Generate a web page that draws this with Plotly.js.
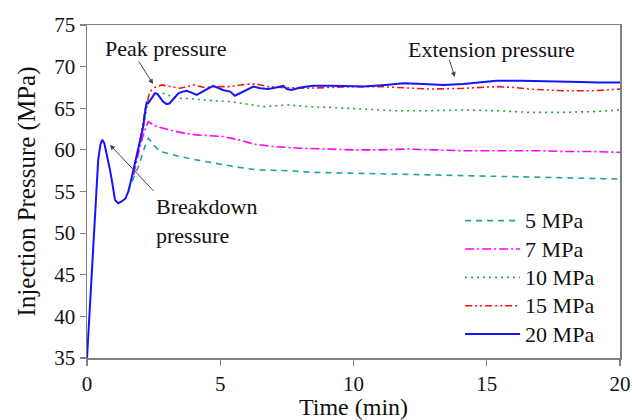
<!DOCTYPE html>
<html>
<head>
<meta charset="utf-8">
<script src="https://cdn.plot.ly/plotly-3.0.1.min.js"></script>
<style>
  html, body { margin: 0; padding: 0; background: #fff; }
  #chart { width: 632px; height: 420px; }
</style>
</head>
<body>
<div id="chart"></div>
<script>
// Injection pressure versus time for five confining-pressure cases
const seriesNames = ['5 MPa', '7 MPa', '10 MPa', '15 MPa', '20 MPa'];

const t5 = [1.55, 1.61, 1.93, 2.15, 2.3, 2.5, 2.74, 3.1, 3.49, 4.1, 4.74, 5.5, 6.37, 7.5, 8.5, 10.0, 11.0, 12.0, 13.5, 15.0, 16.5, 18.0, 19.0, 20];
const p5 = [55.0, 55.6, 58.0, 60.2, 61.4, 60.6, 59.8, 59.5, 59.2, 58.8, 58.4, 58.0, 57.6, 57.5, 57.3, 57.2, 57.1, 57.0, 56.9, 56.8, 56.7, 56.6, 56.6, 56.5];

const t7 = [1.75, 1.99, 2.15, 2.3, 2.45, 2.61, 2.86, 3.2, 3.49, 4.12, 4.6, 5.11, 5.7, 6.24, 7.0, 8.0, 9.0, 10.0, 11.0, 12.0, 13.0, 14.0, 15.0, 16.0, 17.0, 18.0, 19.0, 20];
const p7 = [57.0, 60.4, 62.2, 63.4, 63.1, 62.8, 62.6, 62.3, 62.1, 61.8, 61.7, 61.6, 61.2, 60.7, 60.4, 60.2, 60.1, 60.0, 60.0, 60.1, 60.0, 59.9, 59.9, 59.9, 59.9, 59.8, 59.8, 59.7];

const t10 = [2.0, 2.15, 2.3, 2.6, 2.86, 3.2, 3.49, 4.1, 4.74, 5.37, 6.0, 6.62, 7.5, 8.3, 9.12, 10.4, 11.62, 12.8, 14.12, 15.4, 16.62, 17.8, 19.0, 20];
const p10 = [60.8, 63.5, 66.0, 66.6, 66.8, 66.4, 66.2, 66.1, 65.9, 65.8, 65.5, 65.2, 65.4, 65.2, 65.1, 64.9, 64.7, 64.7, 64.8, 64.7, 64.5, 64.5, 64.6, 64.8];

const t15 = [2.0, 2.18, 2.36, 2.55, 2.8, 3.1, 3.49, 3.75, 3.99, 4.4, 4.74, 5.37, 6.0, 6.37, 6.8, 7.25, 8.2, 9.12, 10.0, 10.99, 12.0, 12.87, 14.12, 15.37, 16.0, 16.62, 17.87, 19.0, 20];
const p15 = [61.2, 64.8, 67.0, 67.5, 67.8, 67.6, 67.4, 67.6, 67.8, 67.5, 67.6, 67.6, 67.9, 67.9, 67.6, 67.5, 67.4, 67.5, 67.6, 67.6, 67.4, 67.3, 67.4, 67.6, 67.5, 67.3, 67.1, 67.1, 67.3];

const t20 = [0, 0.42, 0.5, 0.57, 0.65, 0.74, 0.85, 0.93, 1.05, 1.17, 1.3, 1.45, 1.55, 1.65, 1.74, 1.93, 2.11, 2.2, 2.24, 2.3, 2.36, 2.45, 2.55, 2.65, 2.74, 2.85, 2.99, 3.1, 3.18, 3.43, 3.6, 3.74, 3.9, 4.12, 4.45, 4.74, 5.1, 5.37, 5.55, 5.8, 6.24, 6.5, 6.8, 7.1, 7.37, 7.5, 7.68, 8.0, 8.49, 9.2, 10.37, 11.2, 11.87, 12.6, 13.37, 14.12, 14.8, 15.37, 16.3, 17.25, 18.5, 19.2, 20];
const p20 = [35, 58.8, 60.6, 61.2, 60.8, 59.6, 57.8, 56.4, 54.0, 53.6, 53.8, 54.2, 55.0, 56.3, 57.6, 60.4, 62.8, 65.0, 65.7, 65.6, 65.9, 66.4, 66.8, 66.7, 66.3, 65.8, 65.5, 65.6, 65.9, 66.8, 67.0, 67.1, 66.9, 66.6, 67.2, 67.7, 67.2, 67.0, 66.5, 66.9, 67.6, 67.4, 67.3, 67.5, 67.7, 67.3, 67.2, 67.5, 67.7, 67.7, 67.6, 67.8, 68.0, 67.9, 67.8, 67.9, 68.1, 68.3, 68.3, 68.2, 68.15, 68.1, 68.1];

const xs = [t5, t7, t10, t15, t20];
const ys = [p5, p7, p10, p15, p20];
const colors = ['#1fa39c', '#ff00ff', '#2ca02c', '#ff1010', '#1414ff'];
const dashes = ['6px,5px', '9px,3px,2px,3px', '2px,4px', '7px,3px,2px,3px,2px,3px', 'solid'];

const serif = '"Times New Roman", "Liberation Serif", serif';

// legend rows are spaced by the legend font size; names are drawn a little larger
const traces = seriesNames.map((name, i) => ({
  x: xs[i],
  y: ys[i],
  name: '<span style="font-size:22px">' + name + '</span>',
  type: 'scatter',
  mode: 'lines',
  line: { color: colors[i], width: i === 4 ? 2 : 1.6, dash: dashes[i] }
}));

const arrowStyle = { showarrow: true, arrowhead: 2, arrowsize: 1, arrowwidth: 1, arrowcolor: '#444', axref: 'x', ayref: 'y', text: '' };
const noteFont = { family: serif, size: 22, color: '#111' };

const layout = {
  width: 632,
  height: 420,
  margin: { l: 87, r: 12, t: 25, b: 62 },
  paper_bgcolor: '#ffffff',
  plot_bgcolor: '#ffffff',
  font: { family: serif, size: 21, color: '#111' },
  showlegend: true,
  legend: {
    x: 0.70, y: 0.47, xanchor: 'left', yanchor: 'top',
    bgcolor: 'rgba(0,0,0,0)',
    font: { family: serif, size: 19.5, color: '#111' },
    itemwidth: 55,
    tracegroupgap: 0
  },
  xaxis: {
    range: [0, 20],
    tickvals: [0, 5, 10, 15, 20],
    showgrid: false, zeroline: false,
    showline: true, mirror: true, linecolor: '#808080', linewidth: 1.5,
    ticks: 'outside', ticklen: 6, tickcolor: '#808080', tickwidth: 1.2,
    tickfont: { family: serif, size: 21, color: '#111' },
    title: { text: 'Time (min)', font: { family: serif, size: 24, color: '#111' }, standoff: 4 }
  },
  yaxis: {
    range: [35, 75],
    tickvals: [35, 40, 45, 50, 55, 60, 65, 70, 75],
    showgrid: false, zeroline: false,
    showline: true, mirror: true, linecolor: '#808080', linewidth: 1.5,
    ticks: 'outside', ticklen: 6, tickcolor: '#808080', tickwidth: 1.2,
    tickfont: { family: serif, size: 21, color: '#111' },
    title: { text: 'Injection Pressure (MPa)', font: { family: serif, size: 25, color: '#111' }, standoff: 11 }
  },
  annotations: [
    Object.assign({ x: 2.48, y: 67.9, ax: 1.91, ay: 70.8 }, arrowStyle),
    Object.assign({ x: 0.86, y: 60.6, ax: 2.55, ay: 54.9 }, arrowStyle),
    Object.assign({ x: 13.8, y: 68.75, ax: 13.58, ay: 71.0 }, arrowStyle),
    { x: 2.97, y: 72.2, text: 'Peak pressure', showarrow: false, font: noteFont },
    { x: 2.5, y: 51.5, text: 'Breakdown<br>pressure', align: 'left', xanchor: 'left', showarrow: false, font: noteFont },
    { x: 15.17, y: 72.0, text: 'Extension pressure', showarrow: false, font: noteFont }
  ]
};

Plotly.newPlot('chart', traces, layout, { displayModeBar: false, staticPlot: true });
</script>
</body>
</html>
